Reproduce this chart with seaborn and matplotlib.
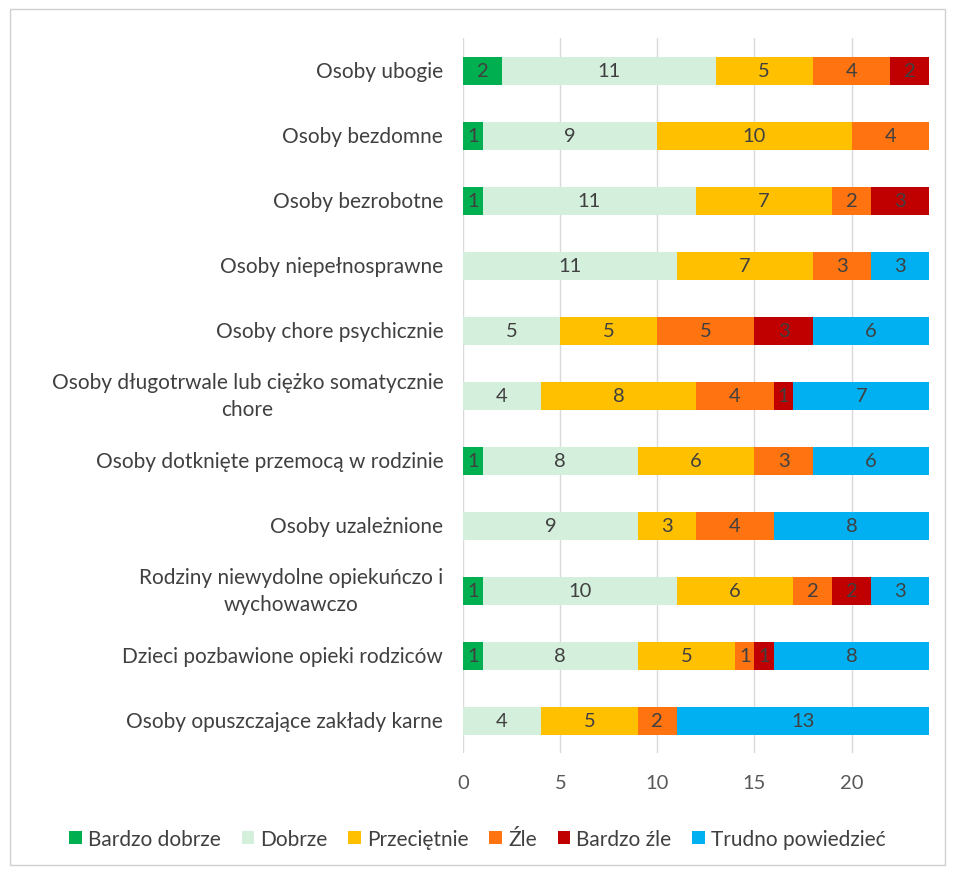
import numpy as np
import pandas as pd
import matplotlib
matplotlib.use("Agg")
import matplotlib.pyplot as plt
import matplotlib.transforms as mtransforms
from matplotlib.patches import Patch, Rectangle
import seaborn as sns

# Data
groups = [
    "Osoby ubogie",
    "Osoby bezdomne",
    "Osoby bezrobotne",
    "Osoby niepełnosprawne",
    "Osoby chore psychicznie",
    "Osoby długotrwale lub ciężko somatycznie\nchore",
    "Osoby dotknięte przemocą w rodzinie",
    "Osoby uzależnione",
    "Rodziny niewydolne opiekuńczo i\nwychowawczo",
    "Dzieci pozbawione opieki rodziców",
    "Osoby opuszczające zakłady karne",
]
answers = ["Bardzo dobrze", "Dobrze", "Przeciętnie", "Źle", "Bardzo źle", "Trudno powiedzieć"]

bardzo_dobrze = [2, 1, 1, 0, 0, 0, 1, 0, 1, 1, 0]
dobrze = [11, 9, 11, 11, 5, 4, 8, 9, 10, 8, 4]
przecietnie = [5, 10, 7, 7, 5, 8, 6, 3, 6, 5, 5]
zle = [4, 4, 2, 3, 5, 4, 3, 4, 2, 1, 2]
bardzo_zle = [2, 0, 3, 0, 3, 1, 0, 0, 2, 1, 0]
trudno = [0, 0, 0, 3, 6, 7, 6, 8, 3, 8, 13]

colors = ["#00B050", "#D5EFDD", "#FFC000", "#FF7311", "#C00000", "#00B0F0"]

df = pd.DataFrame(
    {a: v for a, v in zip(answers, [bardzo_dobrze, dobrze, przecietnie, zle, bardzo_zle, trudno])},
    index=groups,
)
cum = df.cumsum(axis=1)

sns.set_theme(style="white")
plt.rcParams["font.family"] = ["Lato", "DejaVu Sans"]

fig = plt.figure(figsize=(9.55, 8.7), dpi=100)
ax = fig.add_axes([0.485, 0.133, 0.488, 0.822])

# Stacked bars: draw cumulative totals from the last category backwards
for a, c in reversed(list(zip(answers, colors))):
    sns.barplot(x=cum[a].values, y=groups, orient="h", color=c, width=0.43,
                saturation=1, linewidth=0, ax=ax, zorder=3)

# Segment labels
for i, g in enumerate(groups):
    for a in answers:
        v = df.loc[g, a]
        if v > 0:
            mid = cum.loc[g, a] - v / 2
            ax.text(mid, i, str(v), ha="center", va="center", fontsize=14.5,
                    color="#404040", zorder=4)

ax.set_xlim(0, 24)
ax.set_xticks([0, 5, 10, 15, 20])
ax.set_ylim(len(groups) - 0.5, -0.5)
ax.grid(axis="x", color="#D9D9D9", linewidth=1, zorder=0)
ax.set_axisbelow(True)
for s in ax.spines.values():
    s.set_visible(False)
ax.set_xlabel("")
ax.set_ylabel("")
ax.tick_params(axis="x", length=0, pad=15, labelsize=14.5, labelcolor="#595959")

# Category labels (centred when wrapped over two lines)
ax.set_yticks(range(len(groups)), labels=[""] * len(groups))
ax.tick_params(axis="y", length=0)
trans = mtransforms.blended_transform_factory(ax.transAxes, ax.transData) + \
    mtransforms.ScaledTranslation(-20 / 100, 0, fig.dpi_scale_trans)
for i, g in enumerate(groups):
    ax.text(0, i, g, transform=trans, ha="right", va="center", multialignment="center",
            fontsize=15, color="#404040", linespacing=1.45)

handles = [Patch(facecolor=c, edgecolor="none") for c in colors]
fig.legend(handles, answers, loc="center", bbox_to_anchor=(0.5, 0.035), ncol=6,
           frameon=False, fontsize=15, handlelength=0.6, handleheight=0.6,
           handletextpad=0.3, columnspacing=1.0, labelcolor="#404040")

fig.patches.append(Rectangle((0.01, 0.005), 0.98, 0.983, transform=fig.transFigure,
                             fill=False, edgecolor="#D0D0D0", linewidth=1))

fig.savefig("out.png", dpi=100)
